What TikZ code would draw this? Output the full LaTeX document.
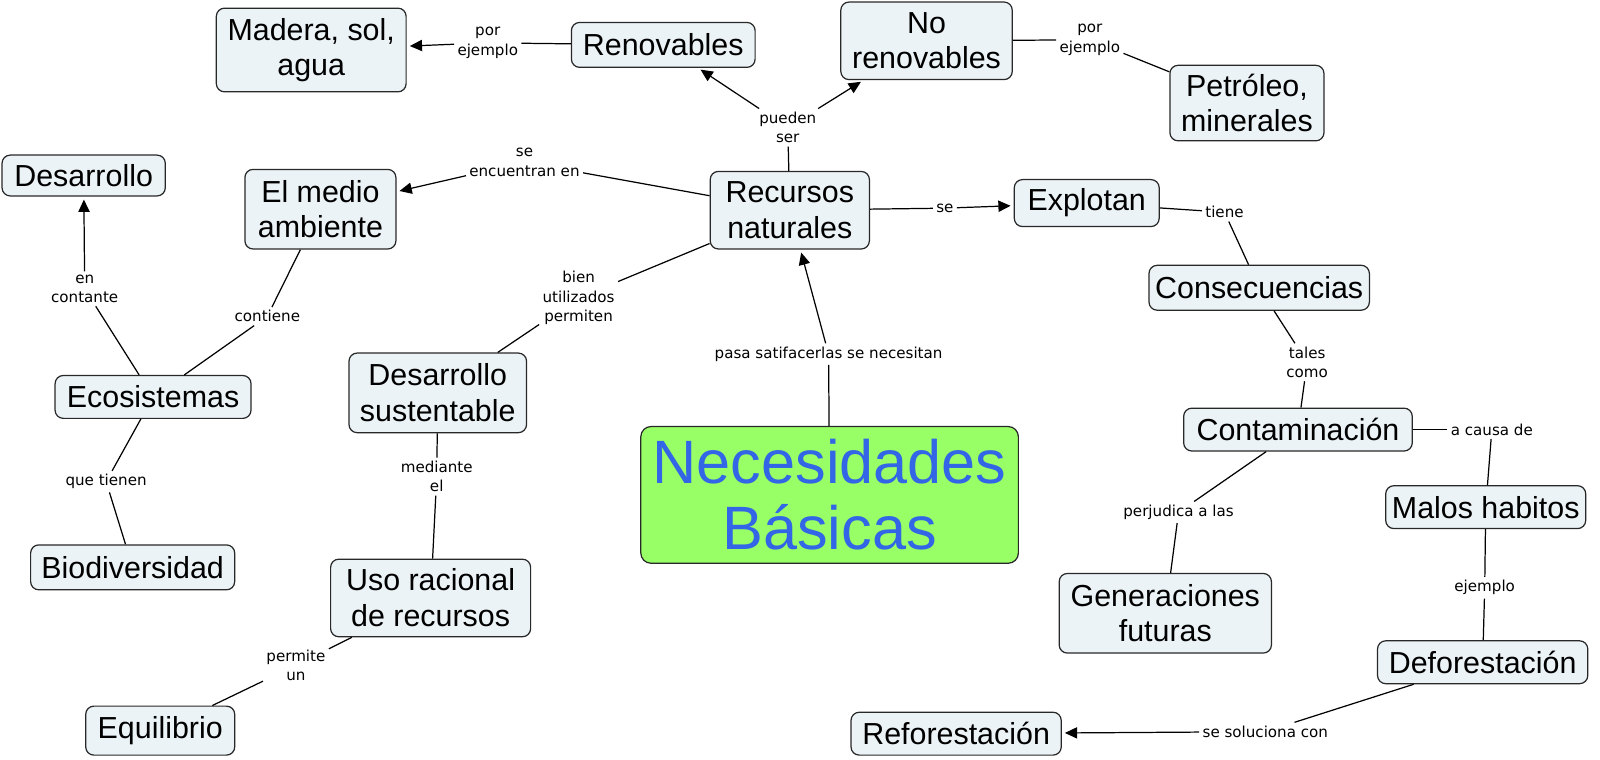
\documentclass[tikz,border=0pt]{standalone}
\usepackage{fontspec}
\setmainfont{Liberation Sans}
\newfontfamily\lblfont{DejaVu Sans}
\usetikzlibrary{arrows.meta}
\definecolor{cfill}{RGB}{236,243,246}
\definecolor{cdraw}{RGB}{40,40,40}
\definecolor{gfill}{RGB}{153,255,102}
\definecolor{btext}{RGB}{51,102,230}
\begin{document}
\begin{tikzpicture}[x=0.5pt,y=-0.5pt,
 concept/.style={draw=cdraw, fill=cfill, rounded corners=4pt, line width=0.6pt, align=center, inner sep=0pt, font=\fontsize{14.9pt}{17.5pt}\selectfont},
 big/.style={draw=cdraw, fill=gfill, rounded corners=5pt, line width=0.6pt, align=center, inner sep=0pt, text=btext, font=\fontsize{30pt}{32.5pt}\selectfont},
 lbl/.style={align=center, inner sep=1.5pt, font=\lblfont\fontsize{7.4pt}{9.5pt}\selectfont},
 conn/.style={line width=0.6pt, draw=black},
 arr/.style={conn, shorten >=1.5pt, -{Triangle[length=6pt,width=5.5pt]}}]
\fill[white] (0,0) rectangle (1568,744);
\useasboundingbox (0,0) rectangle (1568,744);
% concepts
\node[concept, minimum width=93pt, minimum height=41pt] (madera) at (305,49) {Madera, sol,\\agua};
\node[concept, minimum width=90pt, minimum height=22pt] (renov) at (650,44) {Renovables};
\node[concept, minimum width=84pt, minimum height=38pt] (norenov) at (908,40) {No\\renovables};
\node[concept, minimum width=75.5pt, minimum height=37pt] (petro) at (1222,101) {Petróleo,\\minerales};
\node[concept, minimum width=80pt, minimum height=20pt] (desa) at (82,172) {Desarrollo};
\node[concept, minimum width=74pt, minimum height=39pt] (medio) at (314,205) {El medio\\ambiente};
\node[concept, minimum width=78pt, minimum height=38pt] (rec) at (774,206) {Recursos\\naturales};
\node[concept, minimum width=71pt, minimum height=23pt] (explo) at (1065,199) {Explotan};
\node[concept, minimum width=108pt, minimum height=22pt] (consec) at (1234,282) {Consecuencias};
\node[concept, minimum width=96pt, minimum height=21pt] (ecos) at (150,389) {Ecosistemas};
\node[concept, minimum width=87pt, minimum height=39pt] (desasus) at (429,385) {Desarrollo\\sustentable};
\node[big, minimum width=185pt, minimum height=67pt] (neces) at (813,485) {Necesidades\\Básicas};
\node[concept, minimum width=112pt, minimum height=21pt] (contam) at (1272,421) {Contaminación};
\node[concept, minimum width=98pt, minimum height=21pt] (malos) at (1456,497) {Malos habitos};
\node[concept, minimum width=100pt, minimum height=22pt] (biod) at (130,556) {Biodiversidad};
\node[concept, minimum width=98pt, minimum height=38pt] (uso) at (422,586) {Uso racional\\de recursos};
\node[concept, minimum width=104pt, minimum height=39pt] (gener) at (1142,601) {Generaciones\\futuras};
\node[concept, minimum width=103pt, minimum height=21pt] (defor) at (1453,649) {Deforestación};
\node[concept, minimum width=73pt, minimum height=24pt] (equil) at (157,716) {Equilibrio};
\node[concept, minimum width=103pt, minimum height=21pt] (refor) at (937,719) {Reforestación};
% labels
\node[lbl] (l1) at (478,42) {por\\ejemplo};
\node[lbl] (l2) at (772,125) {pueden\\ser};
\node[lbl] (l3) at (1068,39) {por\\ejemplo};
\node[lbl] (l4) at (514,159) {se\\encuentran en};
\node[lbl] (l5) at (926,204) {se};
\node[lbl] (l6) at (1200,208) {tiene};
\node[lbl] (l7) at (83,283) {en\\contante};
\node[lbl] (l8) at (262,310) {contiene};
\node[lbl] (l9) at (567,292) {bien\\utilizados\\permiten};
\node[lbl] (l10) at (812,347) {pasa satifacerlas se necesitan};
\node[lbl] (l11) at (428,467) {mediante\\el};
\node[lbl] (l12) at (104,472) {que tienen};
\node[lbl] (l13) at (290,652) {permite\\un};
\node[lbl] (l14) at (1281,355) {tales\\como};
\node[lbl] (l15) at (1155,502) {perjudica a las};
\node[lbl] (l16) at (1462,421) {a causa de};
\node[lbl] (l17) at (1455,576) {ejemplo};
\node[lbl] (l18) at (1240,717) {se soluciona con};
% connectors
\draw[conn] (renov) -- (l1); \draw[arr] (l1) -- (madera);
\draw[conn] (rec) -- (l2); \draw[arr] (l2) -- (renov); \draw[arr] (l2) -- (norenov);
\draw[conn] (norenov) -- (l3); \draw[conn] (l3) -- (petro);
\draw[conn] (rec) -- (l4); \draw[arr] (l4) -- (medio);
\draw[conn] (rec) -- (l5); \draw[arr] (l5) -- (explo);
\draw[conn] (explo) -- (l6); \draw[conn] (l6) -- (consec);
\draw[conn] (ecos) -- (l7); \draw[arr] (l7) -- (desa);
\draw[conn] (medio) -- (l8); \draw[conn] (l8) -- (ecos);
\draw[conn] (rec) -- (l9); \draw[conn] (l9) -- (desasus);
\draw[conn] (neces) -- (l10); \draw[arr] (l10) -- (rec);
\draw[conn] (desasus) -- (l11); \draw[conn] (l11) -- (uso);
\draw[conn] (ecos) -- (l12); \draw[conn] (l12) -- (biod);
\draw[conn] (uso) -- (l13); \draw[conn] (l13) -- (equil);
\draw[conn] (consec) -- (l14); \draw[conn] (l14) -- (contam);
\draw[conn] (contam) -- (l15); \draw[conn] (l15) -- (gener);
\draw[conn] (contam) -- (l16); \draw[conn] (l16) -- (malos);
\draw[conn] (malos) -- (l17); \draw[conn] (l17) -- (defor);
\draw[conn] (defor) -- (l18); \draw[arr] (l18) -- (refor);
\end{tikzpicture}
\end{document}
